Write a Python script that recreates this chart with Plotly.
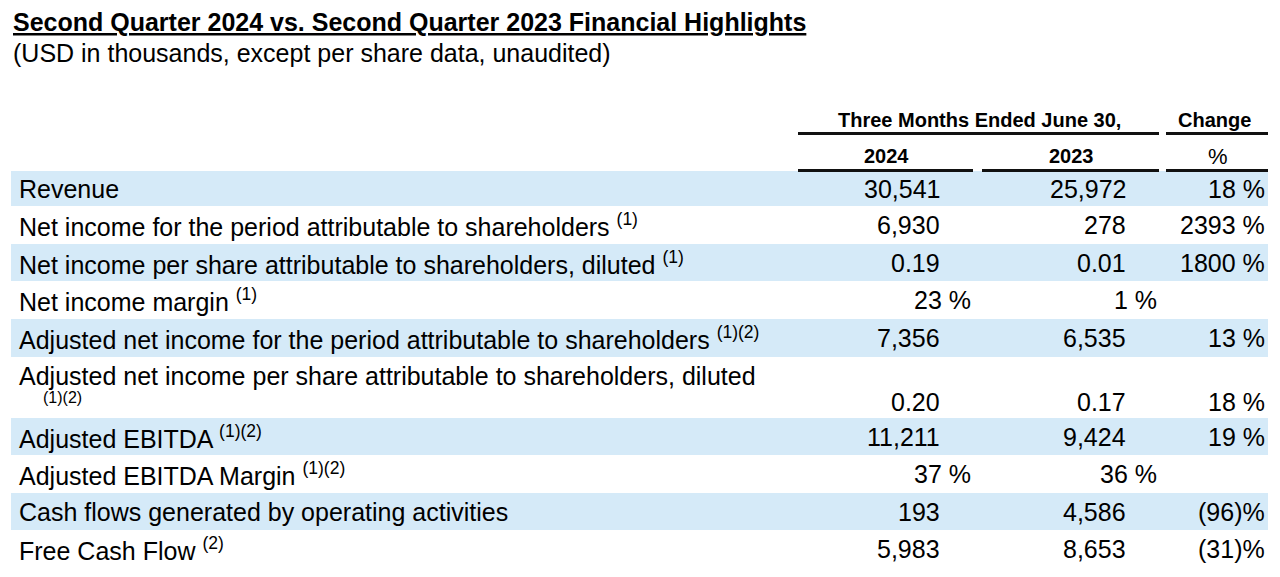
import plotly.graph_objects as go

# ---------------- data ----------------
title = "Second Quarter 2024 vs. Second Quarter 2023 Financial Highlights"
subtitle = "(USD in thousands, except per share data, unaudited)"
group_header = "Three Months Ended June 30,"
change_header = "Change"
col_years = ["2024", "2023"]
change_unit = "%"

labels = [
    "Revenue",
    "Net income for the period attributable to shareholders",
    "Net income per share attributable to shareholders, diluted",
    "Net income margin",
    "Adjusted net income for the period attributable to shareholders",
    "Adjusted net income per share attributable to shareholders, diluted",
    "Adjusted EBITDA",
    "Adjusted EBITDA Margin",
    "Cash flows generated by operating activities",
    "Free Cash Flow",
]
notes = ["", "(1)", "(1)", "(1)", "(1)(2)", "(1)(2)", "(1)(2)", "(1)(2)", "", "(2)"]
values_2024 = ["30,541", "6,930", "0.19", "23 %", "7,356", "0.20", "11,211", "37 %", "193", "5,983"]
values_2023 = ["25,972", "278", "0.01", "1 %", "6,535", "0.17", "9,424", "36 %", "4,586", "8,653"]
change_pct = ["18 %", "2393 %", "1800 %", "", "13 %", "18 %", "19 %", "", "(96)%", "(31)%"]

# ---------------- layout helpers ----------------
OFF = 8  # page body margin
W, H = 1280, 577
FONT = "Liberation Sans, Arial, sans-serif"
BLUE = "#D5EAF8"
body_size = 25
hdr_size = 20

row_heights = [35, 38, 37, 38, 38, 61, 37, 38, 37, 38]
top = 171
row_edges = [top]
for h in row_heights:
    row_edges.append(row_edges[-1] + h)

label_x = 18
col_right = [941, 1127]
pct_shift = 31
change_right = 1266

fig = go.Figure()
fig.add_trace(go.Scatter(x=[OFF, W], y=[OFF, H], mode="markers",
                         marker=dict(opacity=0), hoverinfo="skip", showlegend=False))

shapes = []
ann = []


def add_text(x, y, text, size=body_size, xanchor="left", bold=False, yanchor="middle"):
    if bold:
        text = "<b>" + text + "</b>"
    ann.append(dict(x=x, y=y, xref="x", yref="y", text=text, showarrow=False,
                    xanchor=xanchor, yanchor=yanchor, borderpad=0,
                    font=dict(family=FONT, size=size, color="#000000")))


# title & subtitle
add_text(12, 22, "<u>" + title + "</u>", size=25, bold=True)
add_text(12, 53, subtitle, size=25)

# header
add_text(979, 120, group_header, size=hdr_size, xanchor="center", bold=True)
add_text(1214, 120, change_header, size=hdr_size, xanchor="center", bold=True)
add_text(886, 156, col_years[0], size=hdr_size, xanchor="center", bold=True)
add_text(1071, 156, col_years[1], size=hdr_size, xanchor="center", bold=True)
add_text(1218, 156, change_unit, size=22, xanchor="center", bold=False)

line_style = dict(color="#111111", width=3)
for x0, x1, y in [(798, 1159, 133.5), (1166, 1268, 133.5),
                  (798, 973, 170.5), (982, 1159, 170.5), (1166, 1268, 170.5)]:
    shapes.append(dict(type="line", xref="x", yref="y", x0=x0, x1=x1, y0=y, y1=y,
                       line=line_style, layer="above"))

# rows
for i, lab in enumerate(labels):
    y0, y1 = row_edges[i], row_edges[i + 1]
    yc = (y0 + y1) / 2
    if i % 2 == 0:
        shapes.append(dict(type="rect", xref="x", yref="y", x0=11, x1=1268, y0=y0, y1=y1,
                           fillcolor=BLUE, line=dict(width=0), layer="below"))
    two_line = row_heights[i] > 50
    if two_line:
        add_text(label_x, y0 + 19, lab)
        add_text(label_x + 24, y0 + 40, notes[i], size=16)
        vy = y1 - 16
    else:
        txt = lab + (" <sup>" + notes[i] + "</sup>" if notes[i] else "")
        add_text(label_x, yc, txt, yanchor="middle")
        vy = yc
    for c, vals in enumerate([values_2024, values_2023]):
        v = vals[i]
        xr = col_right[c] + (pct_shift if v.endswith("%") else 0)
        add_text(xr, vy, v, xanchor="right")
    if change_pct[i]:
        add_text(change_right, vy, change_pct[i], xanchor="right")

fig.update_layout(
    width=W - OFF, height=H - OFF,
    margin=dict(l=0, r=0, t=0, b=0),
    paper_bgcolor="white", plot_bgcolor="white",
    xaxis=dict(range=[OFF, W], visible=False, fixedrange=True),
    yaxis=dict(range=[H, OFF], visible=False, fixedrange=True),
    shapes=shapes, annotations=ann, showlegend=False,
)
fig.write_html("out.html")
